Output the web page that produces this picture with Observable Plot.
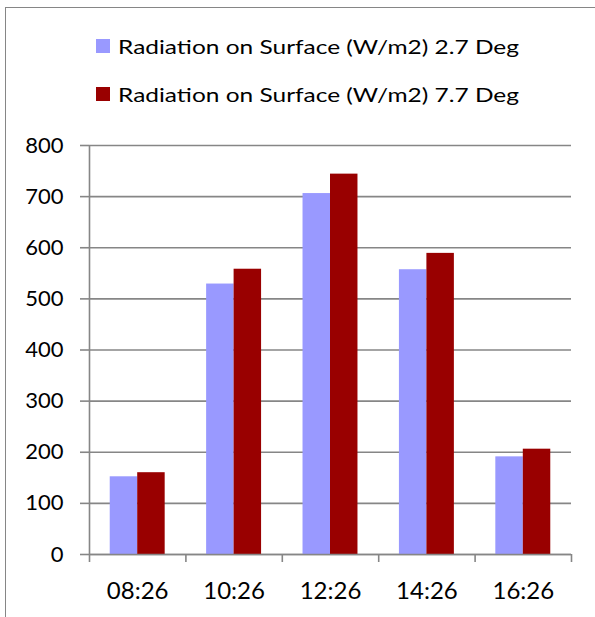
<!DOCTYPE html>
<html>
<head>
<meta charset="utf-8">
<script src="https://cdn.jsdelivr.net/npm/d3@7"></script>
<script src="https://cdn.jsdelivr.net/npm/@observablehq/plot@0.6"></script>
<style>
  html, body { margin: 0; padding: 0; background: #fff; overflow: hidden; }
  #wrap { position: relative; width: 595px; height: 617px; font-family: Lato, "Noto Sans", sans-serif; }
  #frame { position: absolute; left: 5px; top: 7px; width: 640px; height: 660px; border: 1.5px solid #868686; box-sizing: border-box; }
  #legend { position: absolute; left: 0; top: 0; width: 595px; height: 125px; }
  .item { position: absolute; left: 96px; display: flex; align-items: center; font-size: 20px; color: #000; white-space: nowrap; }
  .sw { width: 14px; height: 14px; margin-right: 8px; flex: none; }
  .lbl { display: inline-block; transform-origin: 0 50%; }
  #chart { position: absolute; left: 0; top: 125px; }
</style>
</head>
<body>
<div id="wrap">
  <div id="frame"></div>
  <div id="legend"></div>
  <div id="chart"></div>
</div>
<script>
const times = ["08:26", "10:26", "12:26", "14:26", "16:26"];
const seriesNames = ["Radiation on Surface (W/m2) 2.7 Deg", "Radiation on Surface (W/m2) 7.7 Deg"];
const rad27 = [152, 529, 706, 557, 191];
const rad77 = [160, 558, 744, 589, 206];
const yTicks = [0, 100, 200, 300, 400, 500, 600, 700, 800];
const colors = ["#9999FF", "#990000"];

const rows = [];
times.forEach((t, i) => {
  rows.push({i, time: t, series: seriesNames[0], k: 0, value: rad27[i]});
  rows.push({i, time: t, series: seriesNames[1], k: 1, value: rad77[i]});
});

// legend
const legend = document.getElementById("legend");
seriesNames.forEach((name, k) => {
  const it = document.createElement("div");
  it.className = "item";
  it.style.top = (k === 0 ? 34 : 82) + "px";
  it.innerHTML = `<span class="sw" style="background:${colors[k]}"></span><span class="lbl">${name}</span>`;
  legend.appendChild(it);
  const lbl = it.querySelector(".lbl");
  const w = lbl.getBoundingClientRect().width;
  if (w > 0) lbl.style.transform = `scaleX(${401 / w})`;
});

const half = 0.285;
const grid = "#868686";

const chart = Plot.plot({
  width: 595,
  height: 492,
  marginTop: 20,
  marginBottom: 63,
  marginLeft: 89,
  marginRight: 24,
  style: {fontFamily: "Lato, 'Noto Sans', sans-serif", fontSize: "22px", color: "#000", background: "transparent"},
  x: {type: "linear", domain: [-0.5, times.length - 0.5]},
  y: {domain: [0, 800]},
  color: {domain: seriesNames, range: colors},
  marks: [
    Plot.ruleY(yTicks, {stroke: grid, strokeWidth: 1.6}),
    Plot.rectY(rows, {
      x1: d => d.k === 0 ? d.i - half : d.i,
      x2: d => d.k === 0 ? d.i : d.i + half,
      y1: 0,
      y2: "value",
      fill: "series"
    }),
    Plot.ruleY([0], {stroke: grid, strokeWidth: 1.6}),
    Plot.ruleX([-0.5], {y1: 0, y2: 800, stroke: grid, strokeWidth: 1.6}),
    Plot.axisY({ticks: yTicks, tickSize: 9, tickPadding: 17, stroke: grid, strokeWidth: 1.6, strokeOpacity: 1, label: null, fontSize: 22, fill: "#000"}),
    Plot.axisX({ticks: d3.range(times.length + 1).map(i => i - 0.5), tickSize: 8, tickFormat: () => "", stroke: grid, strokeWidth: 1.6, strokeOpacity: 1, label: null}),
    Plot.axisX({ticks: d3.range(times.length), tickSize: 0, tickPadding: 27, tickFormat: i => times[i], label: null, fontSize: 24, fill: "#000"})
  ]
});
document.getElementById("chart").appendChild(chart);
</script>
</body>
</html>
